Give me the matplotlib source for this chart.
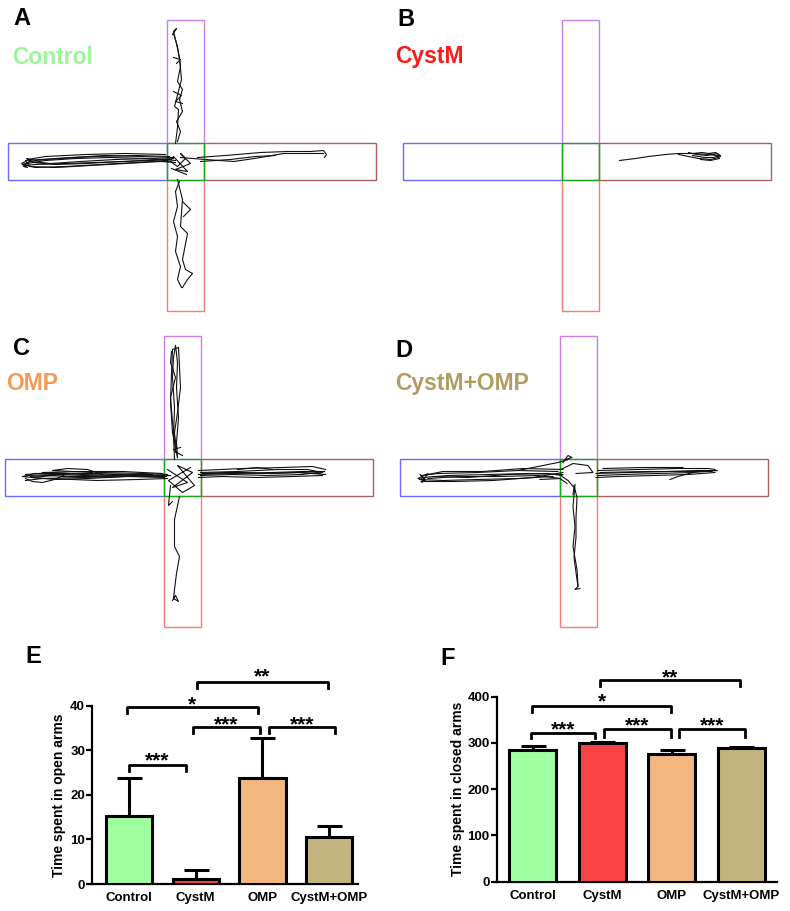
import numpy as np
import matplotlib
matplotlib.use('Agg')
import matplotlib.pyplot as plt
from matplotlib.patches import Rectangle

plt.rcParams['font.family'] = ['Liberation Sans', 'DejaVu Sans']
plt.rcParams['font.weight'] = 'bold'

# ---- bar chart data (E, F) ----
groups = ['Control', 'CystM', 'OMP', 'CystM+OMP']
bar_colors = ['#a0ffa0', '#f74343', '#f2b77e', '#c2b47e']
title_colors = ['#9cf59c', '#ff1a1a', '#f59a55', '#b19d62']
open_mean = [15.2, 1.2, 23.7, 10.6]
open_sem = [8.5, 1.9, 9.1, 2.4]
closed_mean = [285, 299, 277, 290]
closed_sem = [9, 3, 8.5, 2]

# brackets: (x left, x right, bracket y, leg end y, label, label centre y)
open_sig = [
    (0.0, 0.86, 26.7, 25.3, '***', 29.0),
    (-0.03, 1.93, 39.6, 38.3, '*', 41.6),
    (0.96, 1.96, 35.3, 33.9, '***', 37.1),
    (2.10, 3.08, 35.3, 33.9, '***', 37.1),
    (1.02, 2.98, 45.4, 43.9, '**', 47.9),
]
closed_sig = [
    (-0.02, 0.90, 322, 310, '***', 342),
    (1.02, 1.99, 329, 312, '***', 350),
    (2.10, 3.05, 329, 312, '***', 350),
    (-0.01, 1.99, 380, 367, '*', 403),
    (0.97, 2.98, 435, 422, '**', 454),
]

# ---- tracking traces (A-D), pixel offsets from maze centre ----
ctrl_tracks = [
    [(-14, -2), (-40, -3), (-75, -4), (-110, -3), (-140, -1), (-158, 2), (-162, 4)],
    [(-162, 4), (-150, 3), (-120, 2), (-90, 1), (-60, 0), (-30, -2), (-12, -3)],
    [(-12, -4), (-45, -5), (-80, -6), (-115, -4), (-145, -2), (-160, -1), (-156, 5),
     (-130, 6), (-95, 4), (-60, 2), (-25, 0), (-10, 1)],
    [(-10, -1), (-35, -3), (-70, -2), (-105, 0), (-135, 2), (-155, 0), (-163, 3),
     (-150, 6), (-120, 5), (-85, 3), (-50, 1), (-18, -1)],
    [(-16, -5), (-50, -6), (-90, -5), (-125, -3), (-150, -1), (-159, -3), (-152, 1),
     (-130, 3), (-100, 2), (-65, 0), (-35, -1), (-14, 0)],
    [(-20, -7), (-60, -8), (-100, -7), (-140, -5), (-158, -2)],
    [(-160, 0), (-164, 2), (-158, 6), (-162, 5), (-155, -1)],
    [(12, -4), (40, -6), (75, -9), (102, -10), (125, -10), (138, -11), (141, -7), (139, -4)],
    [(-5, -4), (20, -2), (48, 0), (62, -2), (75, -4), (98, -8), (120, -8), (138, -8)],
    [(15, 0), (45, -2), (70, -5), (90, -6)],
    [(-10, -18), (-8, -34), (-7, -52), (-11, -55), (-4, -82), (-6, -104), (-10, -122),
     (-12, -130), (-9, -133), (-13, -127)],
    [(-12, -128), (-8, -115), (-5, -95), (-8, -80), (-3, -72), (-6, -62), (-3, -50),
     (-9, -40), (-5, -30), (-8, -20)],
    [(-12, -70), (-4, -66), (-10, -60), (-3, -58)],
    [(-12, -104), (-5, -102), (-9, -98)],
    [(-8, 18), (-3, 38), (-5, 65), (2, 72), (-3, 98), (0, 108), (7, 112), (2, 118), (-3, 126)],
    [(-4, 126), (-8, 118), (-5, 105), (-10, 90), (-8, 75), (-12, 60), (-8, 45), (-10, 30), (-6, 20)],
    [(-3, 40), (5, 48), (-2, 55)],
    [(-15, 0), (-8, 5), (0, -3), (-5, -8), (5, 2), (-10, 8), (2, 10), (-12, -5)],
    [(-14, 7), (1, 13)],
]

cyst_tracks = [
    [(39, -1), (55, -3), (68, -5), (85, -7), (98, -8), (114, -8), (128, -7), (136, -6), (140, -5)],
    [(98, -7), (108, -5), (118, -3), (130, -2), (138, -4), (134, -7), (122, -9), (112, -8)],
    [(108, -9), (116, -7), (126, -6), (137, -8), (139, -3), (130, -1), (120, -2)],
    [(112, -6), (124, -4), (133, -4), (140, -6), (135, -9), (128, -8)],
]

omp_tracks = [
    [(-14, -2), (-50, -3), (-90, -4), (-130, -3), (-155, -2), (-160, -1)],
    [(-160, -1), (-140, 1), (-100, 0), (-60, -1), (-20, -2)],
    [(-18, 0), (-55, -1), (-95, 1), (-125, 2), (-150, 0)],
    [(-150, 0), (-120, -3), (-80, -5), (-40, -4), (-15, -3)],
    [(-15, 1), (-45, 2), (-85, 3), (-110, 2), (-140, 1), (-157, 3)],
    [(-157, -3), (-130, -5), (-100, -3), (-70, -2), (-35, -1), (-12, -2)],
    [(-158, -1), (-148, -4), (-115, -4), (-128, 2), (-140, 5), (-150, 4), (-157, 1)],
    [(-80, -3), (-95, -8), (-115, -9), (-130, -7), (-110, -6), (-90, -5)],
    [(-20, -4), (-60, -6), (-100, -6), (-140, -5)],
    [(-16, -1), (-48, -2), (-78, -1), (-108, -1), (-138, -2), (-152, -1)],
    [(-30, -3), (-65, -3), (-98, -2), (-120, -1)],
    [(16, -3), (50, -4), (90, -5), (120, -6), (142, -6)],
    [(142, -6), (120, -3), (85, -2), (50, -3), (18, -2)],
    [(18, -5), (55, -6), (95, -8), (125, -8), (140, -5)],
    [(140, -2), (110, -1), (75, 0), (40, -1), (16, 0)],
    [(16, -7), (60, -9), (100, -10), (130, -11), (143, -8)],
    [(143, -3), (115, -5), (80, -4), (45, -5), (20, -4)],
    [(55, -8), (75, -10), (90, -8)],
    [(22, -4), (58, -5), (88, -4), (118, -5), (138, -4)],
    [(-8, -18), (-9, -40), (-8, -70), (-10, -100), (-9, -120), (-7, -132)],
    [(-7, -132), (-5, -115), (-6, -90), (-4, -60), (-6, -35), (-5, -20)],
    [(-5, -20), (-10, -45), (-12, -75), (-11, -105), (-10, -128), (-4, -130)],
    [(-4, -130), (-3, -110), (-2, -90), (-5, -65), (-8, -45), (-7, -25)],
    [(-11, -126), (-12, -115), (-7, -100), (-12, -80), (-10, -55), (-6, -30)],
    [(-2, -30), (-9, -28), (-4, -24), (0, -22)],
    [(-3, 19), (-8, 42), (-8, 69), (-3, 79), (-6, 96), (-8, 112), (-9, 121), (-4, 124),
     (-7, 118), (-10, 123)],
    [(-12, 8), (-14, 28), (-10, 24)],
    [(-15, -8), (5, 5), (-10, 10), (10, -5), (-5, -12), (12, 8), (0, 15), (-14, 3), (8, -10)],
]

combo_tracks = [
    [(-15, -3), (-50, -4), (-90, -3), (-130, -2), (-155, 0), (-158, 2)],
    [(-158, 2), (-135, 3), (-100, 2), (-60, 1), (-25, -1)],
    [(-20, -6), (-60, -7), (-100, -5), (-140, -4), (-157, -2)],
    [(-157, 4), (-125, 4), (-85, 3), (-45, 0), (-15, -5)],
    [(-15, -8), (-55, -9), (-95, -6), (-135, -6), (-150, -3)],
    [(-150, 1), (-120, -1), (-80, -1), (-40, -2), (-18, 1)],
    [(-158, -3), (-152, 4), (-160, 1), (-150, -4), (-156, 5)],
    [(-145, -1), (-110, 0), (-70, -3), (-30, -4), (-16, -2)],
    [(-60, -7), (-35, -12), (-20, -15), (-10, -18)],
    [(-38, 2), (-18, 1), (-11, 6)],
    [(18, -4), (50, -5), (90, -6), (120, -7), (139, -7)],
    [(139, -7), (115, -5), (80, -4), (45, -3), (20, -2)],
    [(20, -7), (60, -8), (100, -9), (130, -9), (137, -8)],
    [(137, -5), (110, -3), (75, -2), (40, -1), (18, 0)],
    [(115, -5), (100, -1), (92, 2)],
    [(25, -9), (65, -10), (105, -10)],
    [(22, -5), (70, -6), (112, -6), (134, -6)],
    [(-3, 7), (-5, 29), (-3, 49), (-5, 69), (-1, 92), (0, 109), (-3, 112), (2, 111)],
    [(0, 109), (-2, 95), (-4, 80), (-2, 60), (-2, 40), (-1, 20), (-4, 8)],
    [(-16, -1), (-10, 3), (-4, 10), (-5, 17)],
    [(-15, -15), (-10, -22), (-6, -20), (-12, -18)],
    [(-17, -8), (-5, -14), (10, -12), (15, -5), (-2, -4)],
]

# maze geometry in pixels
HW = 18.5
ARM_LEFT, ARM_RIGHT, ARM_TOP, ARM_BOTTOM = 178, 190, 142, 149


def draw_maze(ax, cx, cy, tracks):
    """Plus maze outline plus the animal's path."""
    arms = [
        (cx - ARM_LEFT, cy - HW, ARM_LEFT - HW, 2 * HW, '#6a6aff'),
        (cx + HW, cy - HW, ARM_RIGHT - HW, 2 * HW, '#a86060'),
        (cx - HW, cy - ARM_TOP, 2 * HW, ARM_TOP - HW, '#c880e8'),
        (cx - HW, cy + HW, 2 * HW, ARM_BOTTOM - HW, '#ff7878'),
        (cx - HW, cy - HW, 2 * HW, 2 * HW, '#1aa81a'),
    ]
    for x0, y0, w, h, c in arms:
        ax.add_patch(Rectangle((x0, y0), w, h, fill=False, edgecolor=c, linewidth=1.0))
    for tr in tracks:
        pts = np.array(tr, dtype=float)
        ax.plot(cx + pts[:, 0], cy + pts[:, 1], color='#111111', linewidth=0.8)


def draw_bars(ax, means, sems, sig, ymax, yticks, ylabel, xlim, width, label_x):
    x = np.arange(len(groups))
    ax.bar(x, means, width=width, color=bar_colors, edgecolor='black',
           linewidth=2.2, zorder=3)
    ax.errorbar(x, means, yerr=[np.zeros(len(x)), sems], fmt='none',
                ecolor='black', elinewidth=2.2, capsize=9, capthick=2.2, zorder=2)
    for x1, x2, y, leg, lab, ty in sig:
        ax.plot([x1, x1, x2, x2], [leg, y, y, leg], color='black', linewidth=2,
                clip_on=False)
        ax.annotate(lab, ((x1 + x2) / 2, ty), xytext=(0, -8.5),
                    textcoords='offset points', ha='center', va='baseline',
                    fontsize=15, fontweight='bold', annotation_clip=False)
    ax.set_xlim(*xlim)
    ax.set_ylim(0, ymax)
    ax.set_yticks(yticks)
    ax.set_xticks(x)
    ax.set_xticklabels(groups)
    ax.spines['top'].set_visible(False)
    ax.spines['right'].set_visible(False)
    ax.spines['left'].set_linewidth(1.6)
    ax.spines['bottom'].set_linewidth(1.6)
    ax.tick_params(axis='y', direction='out', length=4, width=1.6, labelsize=9.5, pad=1)
    ax.tick_params(axis='x', length=0, labelsize=9.5, pad=6)
    ax.set_ylabel(ylabel, fontsize=10, fontweight='bold')
    ax.yaxis.set_label_coords(label_x, 0.5)
    ax.patch.set_alpha(0)


def main():
    fig = plt.figure(figsize=(7.9, 9.11), dpi=100)

    # pixel canvas for mazes and panel letters
    canvas = fig.add_axes([0, 0, 1, 1])
    canvas.set_xlim(0, 790)
    canvas.set_ylim(911, 0)
    canvas.axis('off')

    centres = [(185.5, 161.5), (580.5, 161.5), (182.5, 477.5), (578, 477.5)]
    all_tracks = [ctrl_tracks, cyst_tracks, omp_tracks, combo_tracks]
    for (cx, cy), tr in zip(centres, all_tracks):
        draw_maze(canvas, cx, cy, tr)

    letters = [('A', 13, 25), ('B', 397, 26), ('C', 13, 355), ('D', 395, 357),
               ('E', 25, 663), ('F', 440, 665)]
    for s, x, y in letters:
        canvas.text(x, y, s, fontsize=17, fontweight='bold', color='black',
                    ha='left', va='baseline')
    name_pos = [(12, 64), (395, 63), (6, 390), (395, 390)]
    for (x, y), name, col in zip(name_pos, groups, title_colors):
        canvas.text(x, y, name, fontsize=16.5, fontweight='bold', color=col,
                    ha='left', va='baseline')

    ax_e = fig.add_axes([0.1165, 0.0296, 0.3367, 0.1958])
    draw_bars(ax_e, open_mean, open_sem, open_sig, 40, [0, 10, 20, 30, 40],
              'Time spent in open arms', (-0.55, 3.43), 0.69, -0.098)

    ax_f = fig.add_axes([0.6287, 0.0322, 0.3544, 0.2031])
    draw_bars(ax_f, closed_mean, closed_sem, closed_sig, 400, [0, 100, 200, 300, 400],
              'Time spent in closed arms', (-0.52, 3.51), 0.68, -0.113)

    fig.savefig('out.png', dpi=100)
    plt.close(fig)


if __name__ == '__main__':
    main()
